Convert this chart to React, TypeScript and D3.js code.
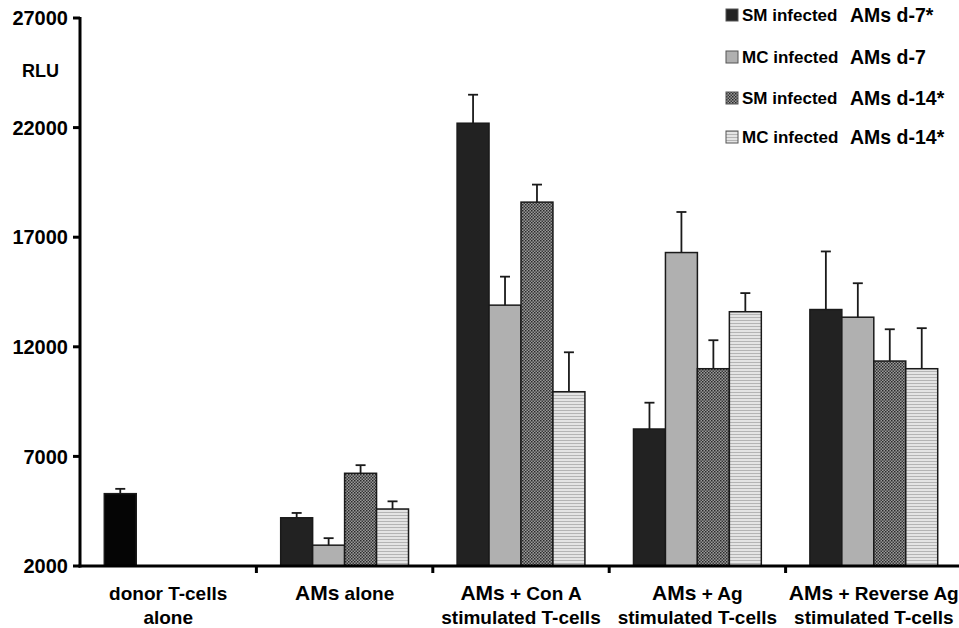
import React from 'react'
import * as d3 from 'd3'

// categories along the x axis (AMs is drawn a bit larger in the original)
const categories = ['donor', 'alone', 'conA', 'ag', 'revAg']
const labelLine1 = [
  [['', 'donor T-cells']],
  [['AMs', ' alone']],
  [['AMs', ' + Con A']],
  [['AMs', ' + Ag']],
  [['AMs', ' + Reverse Ag']],
]
const labelLine2 = ['alone', '', 'stimulated T-cells', 'stimulated T-cells', 'stimulated T-cells']

const seriesNames = ['SM infected', 'MC infected', 'SM infected', 'MC infected']
const seriesSuffix = ['AMs d-7*', 'AMs d-7', 'AMs d-14*', 'AMs d-14*']

// mean RLU per category, one array per series (null = not measured)
const smD7 = [5300, 4200, 22200, 8250, 13700]
const mcD7 = [null, 2950, 13900, 16300, 13350]
const smD14 = [null, 6230, 18600, 11000, 11350]
const mcD14 = [null, 4600, 9950, 13600, 11000]

// upper error (SD) per category
const smD7Err = [220, 220, 1300, 1200, 2650]
const mcD7Err = [null, 320, 1300, 1850, 1550]
const smD14Err = [null, 370, 800, 1300, 1450]
const mcD14Err = [null, 350, 1800, 850, 1850]

const yTicks = [2000, 7000, 12000, 17000, 22000, 27000]

const values = [smD7, mcD7, smD14, mcD14]
const errors = [smD7Err, mcD7Err, smD14Err, mcD14Err]
const fills = ['#222222', '#b0b0b0', 'url(#checker)', 'url(#stripes)']

const font = '"Liberation Sans", Arial, sans-serif'

export default function App() {
  const width = 959
  const height = 628
  const x0 = 80
  const baseY = 566

  const y = d3.scaleLinear().domain([2000, 27000]).range([baseY, 18])
  const x = d3.scaleBand<string>().domain(categories).range([x0, 962]).padding(0)
  const xs = d3.scaleBand<number>().domain([0, 1, 2, 3]).range([0, x.bandwidth()]).paddingInner(0).paddingOuter(0.76)

  const bars: any[] = []
  const errs: any[] = []
  categories.forEach((c, ci) => {
    values.forEach((vals, si) => {
      const v = vals[ci]
      if (v == null) return
      const bx = (x(c) as number) + (xs(si) as number)
      const bw = xs.bandwidth()
      bars.push(
        <rect key={`b${ci}-${si}`} x={bx} y={y(v)} width={bw} height={baseY - y(v)}
          fill={ci === 0 ? '#050505' : fills[si]} stroke="#1a1a1a" strokeWidth={1.5} />
      )
      const e = errors[si][ci]
      if (e != null) {
        const cx = bx + bw / 2
        errs.push(
          <g key={`e${ci}-${si}`} stroke="#1a1a1a" strokeWidth={1.8}>
            <line x1={cx} x2={cx} y1={y(v)} y2={y(v + e)} />
            <line x1={cx - 5} x2={cx + 5} y1={y(v + e)} y2={y(v + e)} />
          </g>
        )
      }
    })
  })

  const legendY = [15, 57, 98, 137]

  return (
    <svg width={width} height={height} style={{ position: 'absolute', left: 0, top: 0, background: '#fff' }}>
      <defs>
        <pattern id="checker" width={3} height={3} patternUnits="userSpaceOnUse">
          <rect width={3} height={3} fill="#9a9a9a" />
          <rect width={1.5} height={1.5} fill="#2a2a2a" />
          <rect x={1.5} y={1.5} width={1.5} height={1.5} fill="#3a3a3a" />
        </pattern>
        <pattern id="stripes" width={4} height={3} patternUnits="userSpaceOnUse">
          <rect width={4} height={3} fill="#e4e4e4" />
          <rect y={2} width={4} height={1} fill="#b4b4b4" />
        </pattern>
      </defs>

      {bars}
      {errs}

      {/* axes */}
      <g stroke="#000" strokeWidth={3}>
        <line x1={x0} x2={x0} y1={17} y2={baseY + 1.5} />
        <line x1={x0 - 1.5} x2={width} y1={baseY} y2={baseY} />
        {yTicks.map(t => (
          <line key={t} x1={x0 - 7} x2={x0} y1={y(t)} y2={y(t)} />
        ))}
        {categories.slice(1).map(c => (
          <line key={c} x1={x(c)} x2={x(c)} y1={baseY} y2={baseY + 7} />
        ))}
      </g>

      <g fontFamily={font} fontWeight="bold" fill="#000">
        {yTicks.map(t => (
          <text key={t} x={68} y={y(t)} dy="0.36em" textAnchor="end" fontSize={20}>{t}</text>
        ))}
        <text x={22} y={77} fontSize={18}>RLU</text>

        {categories.map((c, i) => {
          const cx = (x(c) as number) + x.bandwidth() / 2
          return (
            <g key={c}>
              <text x={cx} y={600} textAnchor="middle" fontSize={19}>
                {labelLine1[i].map(([a, b], k) => (
                  <React.Fragment key={k}>
                    {a && <tspan fontSize={21}>{a}</tspan>}
                    <tspan>{b}</tspan>
                  </React.Fragment>
                ))}
              </text>
              <text x={cx} y={624} textAnchor="middle" fontSize={19}>{labelLine2[i]}</text>
            </g>
          )
        })}

        {seriesNames.map((n, i) => (
          <g key={i}>
            <rect x={726} y={legendY[i] - 6} width={12} height={12} fill={fills[i]} stroke="#555" strokeWidth={1} />
            <text x={742} y={legendY[i]} dy="0.35em" fontSize={17}>{n}</text>
            <text x={850} y={legendY[i]} dy="0.35em" fontSize={19.5}>{seriesSuffix[i]}</text>
          </g>
        ))}
      </g>
    </svg>
  )
}
